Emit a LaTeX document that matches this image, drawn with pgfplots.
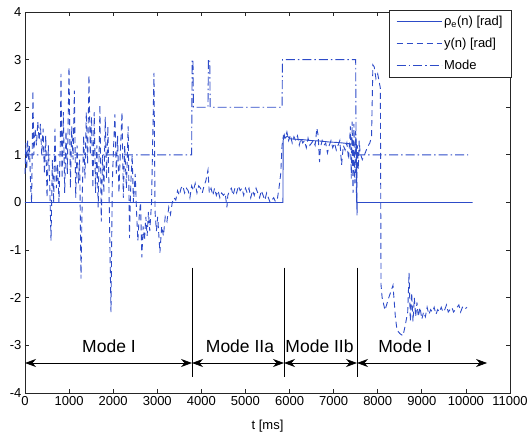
\documentclass[border=0pt]{standalone}
\usepackage{fontspec}
\setmainfont{Liberation Sans}
\usepackage{pgfplots}
\pgfplotsset{compat=1.18}
\usetikzlibrary{arrows.meta}
\definecolor{mblue}{RGB}{45,75,200}
\begin{document}
\begin{tikzpicture}
\begin{axis}[
  scale only axis, width=485bp, height=381bp,
  xmin=0, xmax=11000, ymin=-4, ymax=4,
  xtick distance=1000, ytick distance=1,
  scaled x ticks=false,
  /pgf/number format/assume math mode=true,
  /pgf/number format/1000 sep={},
  font=\fontsize{13bp}{15bp}\selectfont,
  tick align=inside, major tick length=4bp,
  axis line style={black!85, line width=0.8bp},
  every tick/.style={black!85, line width=0.8bp},
  xlabel={t [ms]},
  xlabel style={yshift=-8bp},
  legend style={at={(rel axis cs:1.004,1.005)}, anchor=north east, draw=black!85, line width=0.8bp,
    font=\fontsize{13bp}{15bp}\selectfont, cells={anchor=west}, row sep=7bp, inner xsep=7bp, inner ysep=4bp},
  legend image code/.code={\begin{scope}[#1]\pgfsetstrokecolor{mblue}\pgfsetlinewidth{0.9bp}\pgfpathmoveto{\pgfpointorigin}\pgfpathlineto{\pgfpoint{45bp}{0bp}}\pgfusepath{stroke}\end{scope}},
  clip=false,
]
% rho_e(n)
\addplot[mblue, line width=0.9bp] coordinates {
(0,0) (5850,0) (5855,1.30) (5880,1.42) (5900,1.35) (5950,1.40) (6000,1.34) (6100,1.33) (6300,1.32) (6500,1.30) (6700,1.29) (6900,1.27) (7100,1.26) (7300,1.24) (7515,1.22) (7530,-0.27) (7535,0) (10150,0)
};
\addlegendentry{ρ\textsubscript{e}(n) [rad]}
% y(n)
\addplot[mblue, line width=0.9bp, dash pattern=on 6bp off 4bp] coordinates {
(0,0.6) (20,1.25) (40,0.7) (60,1.3) (80,0.9) (100,1.2) (130,0.3) (150,0.0) (180,2.35) (200,1.0) (230,1.55) (260,1.2) (290,1.7) (320,1.3) (350,1.65) (380,1.0) (410,1.55) (440,0.6) (470,1.4) (500,0.1) (530,1.2) (560,0.4) (590,-0.8) (620,0.9) (650,0.0) (680,1.55) (710,0.3) (740,0.8) (770,0.0) (800,1.2) (816,2.7) (840,0.5) (870,1.9) (900,0.2) (930,1.5) (960,0.6) (998,2.85) (1030,0.3) (1060,1.6) (1090,0.9) (1120,2.35) (1150,0.1) (1180,1.2) (1210,0.4) (1240,0.9) (1270,-1.6) (1300,0.2) (1330,1.4) (1360,0.5) (1390,1.9) (1420,0.8) (1451,2.68) (1480,1.0) (1510,1.8) (1540,0.3) (1570,1.9) (1600,0.2) (1630,1.2) (1660,-0.1) (1700,2.05) (1730,-0.4) (1760,1.0) (1790,0.2) (1820,1.8) (1850,0.5) (1880,1.6) (1910,0.0) (1950,-2.3) (1980,0.4) (2010,1.2) (2040,1.85) (2070,0.6) (2100,1.4) (2130,0.2) (2160,1.0) (2200,1.9) (2230,0.1) (2260,1.2) (2300,0.3) (2340,1.6) (2370,-0.75) (2400,0.4) (2430,1.0) (2460,0.0) (2500,0.6) (2530,-0.2) (2560,-0.8) (2590,-0.3) (2620,0.0) (2650,-1.15) (2680,-0.5) (2710,-0.8) (2740,-0.3) (2770,-0.7) (2800,-0.2) (2830,-0.6) (2870,0.0) (2925,2.72) (2950,-0.2) (2980,-0.6) (3010,-0.3) (3060,-1.05) (3100,-0.5) (3140,-0.7) (3180,-0.3) (3220,-0.4) (3260,-0.1) (3300,-0.25) (3340,0.0) (3380,0.1) (3420,0.05) (3460,0.25) (3500,0.15) (3540,0.3) (3580,0.35) (3620,0.2) (3660,0.3) (3700,0.25) (3740,0.1) (3780,0.35) (3820,0.25) (3860,0.4) (3900,0.2) (3940,0.35) (3980,0.3) (4020,0.2) (4060,0.35) (4100,0.45) (4150,0.68) (4180,0.2) (4220,0.3) (4260,0.15) (4300,0.3) (4340,0.15) (4380,0.25) (4420,0.1) (4460,0.2) (4500,0.15) (4540,0.2) (4580,-0.1) (4600,0.15) (4640,0.25) (4680,0.3) (4720,0.15) (4760,0.3) (4800,0.2) (4840,0.35) (4880,0.25) (4920,0.3) (4960,0.15) (5000,0.3) (5040,0.2) (5080,0.3) (5120,0.1) (5160,0.25) (5200,0.15) (5240,0.3) (5280,0.2) (5320,0.1) (5360,0.25) (5400,0.15) (5440,0.05) (5480,0.2) (5520,0.1) (5560,0.0) (5600,0.05) (5640,0.1) (5680,0.02) (5720,0.05) (5760,0.3) (5800,0.6) (5830,1.2) (5860,1.4) (5900,1.35) (5940,1.48) (5980,1.3) (6020,1.42) (6060,1.25) (6100,1.38) (6140,1.3) (6180,1.4) (6220,1.2) (6260,1.35) (6300,1.25) (6340,1.3) (6380,1.15) (6420,1.35) (6460,1.2) (6500,1.25) (6540,1.3) (6580,1.2) (6620,1.56) (6650,1.4) (6680,0.85) (6700,1.15) (6740,1.3) (6780,1.2) (6820,1.25) (6860,1.04) (6900,1.2) (6940,1.3) (6980,1.15) (7020,1.25) (7060,1.1) (7100,1.2) (7140,1.3) (7180,0.79) (7220,1.2) (7260,1.1) (7300,1.25) (7340,0.9) (7380,1.6) (7400,0.5) (7420,1.7) (7440,0.2) (7460,1.65) (7480,0.4) (7500,1.5) (7520,0.0) (7540,1.2) (7560,0.7) (7580,1.3) (7600,1.05) (7650,0.9) (7700,1.0) (7760,1.15) (7820,1.25) (7860,1.38) (7890,2.89) (7920,2.85) (7960,2.6) (8000,2.7) (8040,2.5) (8060,2.4) (8075,-1.73) (8100,-2.0) (8165,-2.26) (8250,-2.0) (8346,-1.74) (8400,-2.4) (8437,-2.68) (8500,-2.75) (8573,-2.8) (8620,-2.6) (8680,-2.3) (8710,-1.48) (8740,-2.5) (8770,-1.9) (8800,-2.5) (8830,-2.0) (8860,-2.4) (8890,-2.1) (8920,-2.4) (8960,-2.2) (9000,-2.45) (9040,-2.3) (9080,-2.4) (9120,-2.2) (9160,-2.35) (9200,-2.25) (9240,-2.3) (9280,-2.2) (9320,-2.35) (9360,-2.25) (9400,-2.3) (9440,-2.2) (9480,-2.3) (9520,-2.25) (9560,-2.15) (9600,-2.3) (9640,-2.25) (9680,-2.2) (9720,-2.3) (9760,-2.25) (9800,-2.2) (9840,-2.15) (9880,-2.3) (9920,-2.2) (9960,-2.25) (10025,-2.2)
};
\addlegendentry{y(n) [rad]}
% Mode
\addplot[mblue, line width=0.9bp, dash pattern=on 9bp off 3bp on 1.5bp off 3bp] coordinates {
(0,1) (3780,1) (3790,3) (3810,3) (3820,2) (4150,2) (4160,3) (4190,3) (4200,2) (5830,2) (5840,3) (7500,3) (7510,1) (10050,1)
};
\addlegendentry{Mode}
% annotations
\draw[black, line width=0.7bp] (axis cs:3788,-1.37) -- (axis cs:3788,-3.66);
\draw[black, line width=0.7bp] (axis cs:5874,-1.37) -- (axis cs:5874,-3.66);
\draw[black, line width=0.7bp] (axis cs:7530,-1.37) -- (axis cs:7530,-3.66);
\draw[black, line width=0.7bp, {Stealth[length=11bp,width=8bp,inset=3.5bp]}-{Stealth[length=11bp,width=8bp,inset=3.5bp]}] (axis cs:0,-3.37) -- (axis cs:3788,-3.37);
\draw[black, line width=0.7bp, {Stealth[length=11bp,width=8bp,inset=3.5bp]}-{Stealth[length=11bp,width=8bp,inset=3.5bp]}] (axis cs:3788,-3.37) -- (axis cs:5874,-3.37);
\draw[black, line width=0.7bp, {Stealth[length=11bp,width=8bp,inset=3.5bp]}-{Stealth[length=11bp,width=8bp,inset=3.5bp]}] (axis cs:5874,-3.37) -- (axis cs:7530,-3.37);
\draw[black, line width=0.7bp, {Stealth[length=11bp,width=8bp,inset=3.5bp]}-{Stealth[length=11bp,width=8bp,inset=3.5bp]}] (axis cs:7530,-3.37) -- (axis cs:10480,-3.37);
\node[anchor=base, font=\fontsize{17.5bp}{20bp}\selectfont, inner sep=0pt] at (axis cs:1905,-3.14) {Mode I};
\node[anchor=base, font=\fontsize{17.5bp}{20bp}\selectfont, inner sep=0pt] at (axis cs:4876,-3.14) {Mode IIa};
\node[anchor=base, font=\fontsize{17.5bp}{20bp}\selectfont, inner sep=0pt] at (axis cs:6680,-3.14) {Mode IIb};
\node[anchor=base, font=\fontsize{17.5bp}{20bp}\selectfont, inner sep=0pt] at (axis cs:8620,-3.14) {Mode I};
\end{axis}
\pgfresetboundingbox
\path[use as bounding box] (-25bp,-45bp) rectangle (506bp,393bp);
\end{tikzpicture}
\end{document}
